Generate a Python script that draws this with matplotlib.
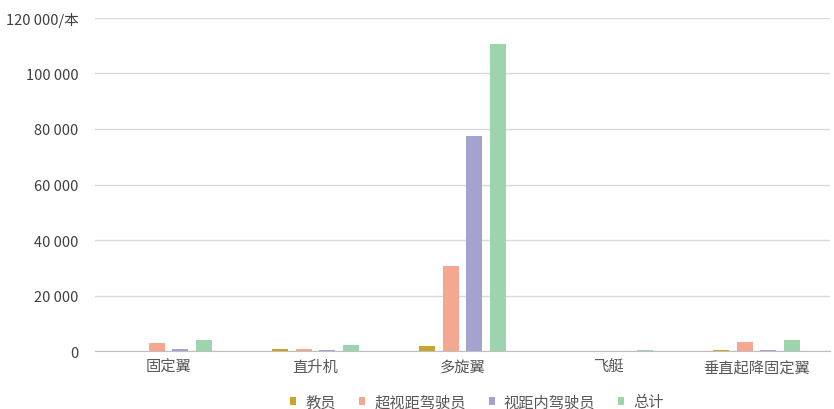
import matplotlib.pyplot as plt
import numpy as np
from matplotlib.ticker import FuncFormatter

plt.rcParams['font.family'] = ['Noto Sans CJK SC', 'DejaVu Sans']

categories = ["固定翼", "直升机", "多旋翼", "飞艇", "垂直起降固定翼"]
series_names = ["教员", "超视距驾驶员", "视距内驾驶员", "总计"]
jiaoyuan = [200, 800, 2000, 50, 600]
chaoshiju = [3000, 900, 30800, 100, 3200]
shijunei = [700, 400, 77500, 50, 400]
zongji = [3900, 2200, 110500, 250, 4000]
colors = ["#c8a42a", "#f3a88f", "#a5a2cf", "#9dd3ad"]

fig = plt.figure(figsize=(8.34, 4.1), dpi=100)
ax = fig.add_axes([0.114, 0.141, 0.881, 0.813])

x = np.arange(len(categories))
w = 0.11
step = 0.16
for i, (vals, name) in enumerate(zip([jiaoyuan, chaoshiju, shijunei, zongji], series_names)):
    ax.bar(x + (i - 1.5) * step, vals, width=w, color=colors[i], label=name, zorder=3)

ax.set_xlim(-0.5, len(categories) - 0.5)
ax.set_ylim(0, 120000)
ax.set_yticks(range(0, 120001, 20000))
ax.yaxis.set_major_formatter(FuncFormatter(
    lambda v, p: ("120 000/本" if v == 120000 else f"{int(v):,}".replace(",", " "))))
ax.set_xticks(x)
ax.set_xticklabels(categories)
ax.grid(axis="y", color="#d9d9d9", linewidth=1, zorder=0)
for s in ["top", "right", "left"]:
    ax.spines[s].set_visible(False)
ax.spines["bottom"].set_color("#bfbfbf")
ax.tick_params(axis="y", length=0, labelsize=10.5, colors="#404040", pad=12)
ax.tick_params(axis="x", length=0, labelsize=11, colors="#595959", pad=5)

ax.legend(loc="upper center", bbox_to_anchor=(0.52, -0.085), ncol=4, frameon=False,
          fontsize=11, handlelength=0.4, handleheight=0.4, columnspacing=1.5,
          handletextpad=0.6, labelcolor="#595959")

fig.savefig("out.png", dpi=100)
